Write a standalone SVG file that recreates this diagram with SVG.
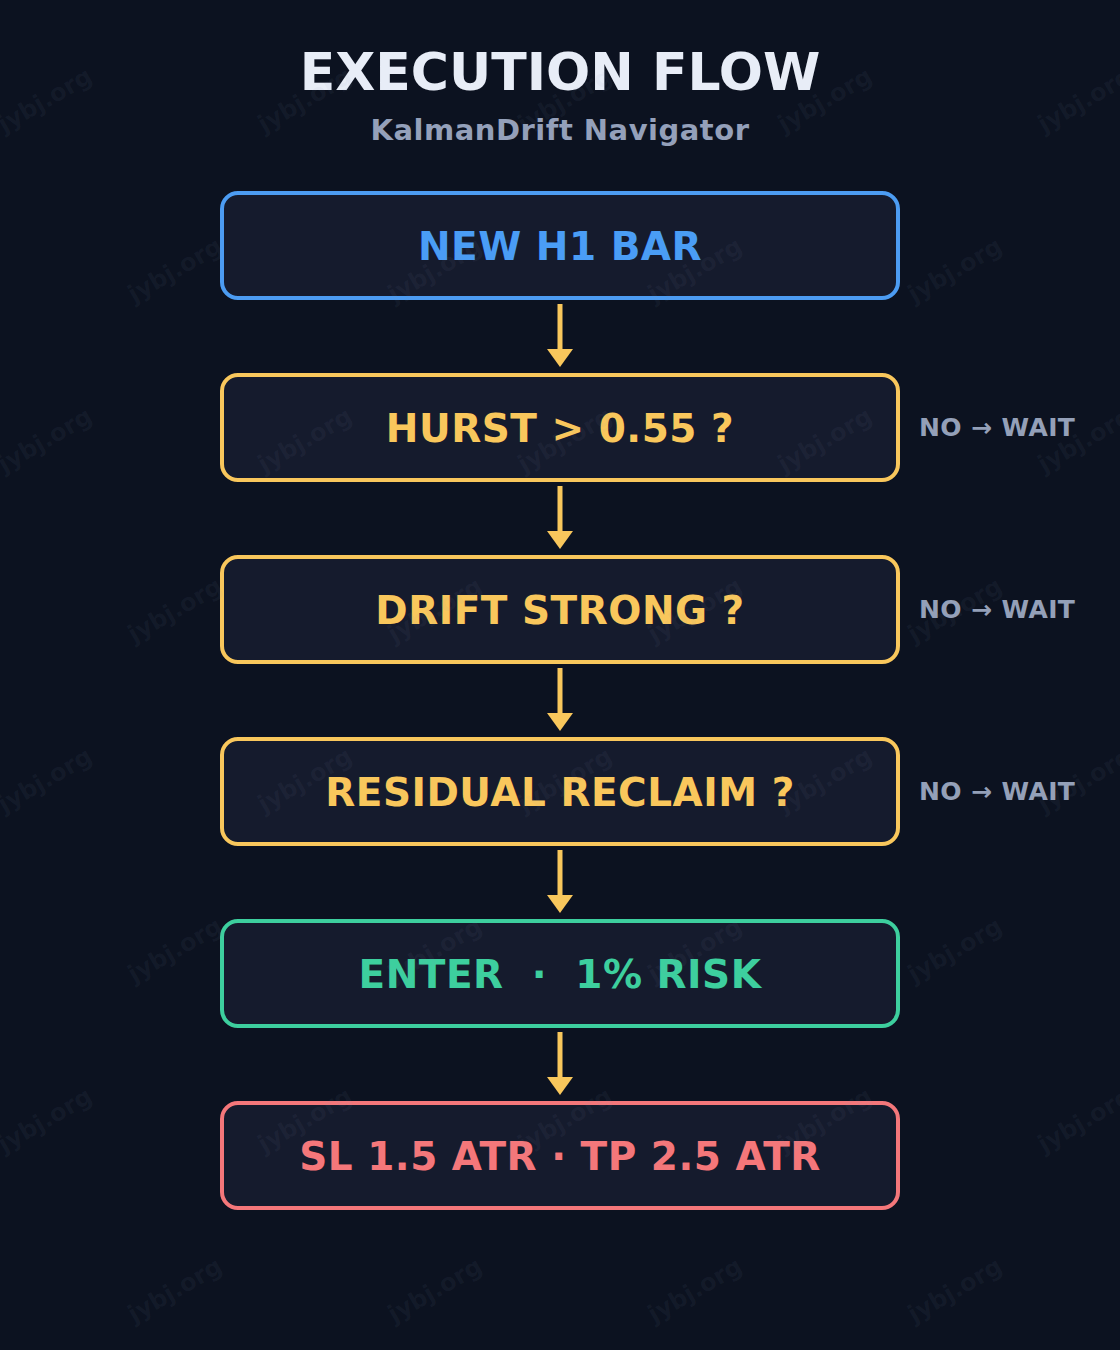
<svg xmlns="http://www.w3.org/2000/svg" xmlns:xlink="http://www.w3.org/1999/xlink" width="1120" height="1350" viewBox="0 0 1120 1350">
  <style>
    text { font-family: "DejaVu Sans", "Liberation Sans", sans-serif; font-weight: bold; }
    .title { font-size: 52px; fill: #e8edf7; text-anchor: middle; }
    .sub { font-size: 29px; fill: #94a0ba; text-anchor: middle; letter-spacing: 0.5px; }
    .box { fill: #151b2d; stroke-width: 4; }
    .lbl { font-size: 39px; text-anchor: middle; letter-spacing: 0.5px; white-space: pre; }
    .blue { stroke: #4c9cf2; } .blue-t { fill: #4a9df5; }
    .yel { stroke: #f9c75c; } .yel-t { fill: #f9c75c; }
    .grn { stroke: #3dcf9e; } .grn-t { fill: #3dcf9e; }
    .red { stroke: #f4777a; } .red-t { fill: #f4777a; }
    .no { font-size: 25px; fill: #94a0b8; letter-spacing: 0.4px; }
    .conn { stroke: #f9c75c; stroke-width: 5; fill: none; }
    .wm { font-size: 24px; fill: #8a98b8; fill-opacity: 0.07; text-anchor: middle; }
  </style>
  <defs>
    <marker id="head" markerUnits="userSpaceOnUse" markerWidth="26" markerHeight="18" viewBox="0 0 26 18" refX="13" refY="0" orient="0" overflow="visible">
      <path d="M0,0 L26,0 L13,18 Z" fill="#f9c75c"/>
    </marker>
    <text id="wm" class="wm" x="0" y="8" transform="rotate(-30)">jybj.org</text>
  </defs>

  <rect width="1120" height="1350" fill="#0c1220"/>

  <g id="header">
    <text class="title" x="560" y="90">EXECUTION FLOW</text>
    <text class="sub" x="560" y="140">KalmanDrift Navigator</text>
  </g>

  <g id="connectors">
    <path class="conn" d="M560,304 V349" marker-end="url(#head)"/>
    <path class="conn" d="M560,486 V531" marker-end="url(#head)"/>
    <path class="conn" d="M560,668 V713" marker-end="url(#head)"/>
    <path class="conn" d="M560,850 V895" marker-end="url(#head)"/>
    <path class="conn" d="M560,1032 V1077" marker-end="url(#head)"/>
  </g>

  <g id="node-new-bar">
    <rect class="box blue" x="222" y="193" width="676" height="105" rx="16"/>
    <text class="lbl blue-t" x="560" y="260">NEW H1 BAR</text>
  </g>
  <g id="node-hurst">
    <rect class="box yel" x="222" y="375" width="676" height="105" rx="16"/>
    <text class="lbl yel-t" x="560" y="442">HURST &gt; 0.55 ?</text>
    <text class="no" x="919" y="436">NO → WAIT</text>
  </g>
  <g id="node-drift">
    <rect class="box yel" x="222" y="557" width="676" height="105" rx="16"/>
    <text class="lbl yel-t" x="560" y="624">DRIFT STRONG ?</text>
    <text class="no" x="919" y="618">NO → WAIT</text>
  </g>
  <g id="node-residual">
    <rect class="box yel" x="222" y="739" width="676" height="105" rx="16"/>
    <text class="lbl yel-t" x="560" y="806">RESIDUAL RECLAIM ?</text>
    <text class="no" x="919" y="800">NO → WAIT</text>
  </g>
  <g id="node-enter">
    <rect class="box grn" x="222" y="921" width="676" height="105" rx="16"/>
    <text class="lbl grn-t" x="560" y="988">ENTER  ·  1% RISK</text>
  </g>
  <g id="node-exit">
    <rect class="box red" x="222" y="1103" width="676" height="105" rx="16"/>
    <text class="lbl red-t" x="560" y="1170">SL 1.5 ATR · TP 2.5 ATR</text>
  </g>

  <g id="watermark">
    <use xlink:href="#wm" x="45" y="100"/><use xlink:href="#wm" x="305" y="100"/><use xlink:href="#wm" x="565" y="100"/><use xlink:href="#wm" x="825" y="100"/><use xlink:href="#wm" x="1085" y="100"/>
    <use xlink:href="#wm" x="175" y="270"/><use xlink:href="#wm" x="435" y="270"/><use xlink:href="#wm" x="695" y="270"/><use xlink:href="#wm" x="955" y="270"/>
    <use xlink:href="#wm" x="45" y="440"/><use xlink:href="#wm" x="305" y="440"/><use xlink:href="#wm" x="565" y="440"/><use xlink:href="#wm" x="825" y="440"/><use xlink:href="#wm" x="1085" y="440"/>
    <use xlink:href="#wm" x="175" y="610"/><use xlink:href="#wm" x="435" y="610"/><use xlink:href="#wm" x="695" y="610"/><use xlink:href="#wm" x="955" y="610"/>
    <use xlink:href="#wm" x="45" y="780"/><use xlink:href="#wm" x="305" y="780"/><use xlink:href="#wm" x="565" y="780"/><use xlink:href="#wm" x="825" y="780"/><use xlink:href="#wm" x="1085" y="780"/>
    <use xlink:href="#wm" x="175" y="950"/><use xlink:href="#wm" x="435" y="950"/><use xlink:href="#wm" x="695" y="950"/><use xlink:href="#wm" x="955" y="950"/>
    <use xlink:href="#wm" x="45" y="1120"/><use xlink:href="#wm" x="305" y="1120"/><use xlink:href="#wm" x="565" y="1120"/><use xlink:href="#wm" x="825" y="1120"/><use xlink:href="#wm" x="1085" y="1120"/>
    <use xlink:href="#wm" x="175" y="1290"/><use xlink:href="#wm" x="435" y="1290"/><use xlink:href="#wm" x="695" y="1290"/><use xlink:href="#wm" x="955" y="1290"/>
  </g>
</svg>
